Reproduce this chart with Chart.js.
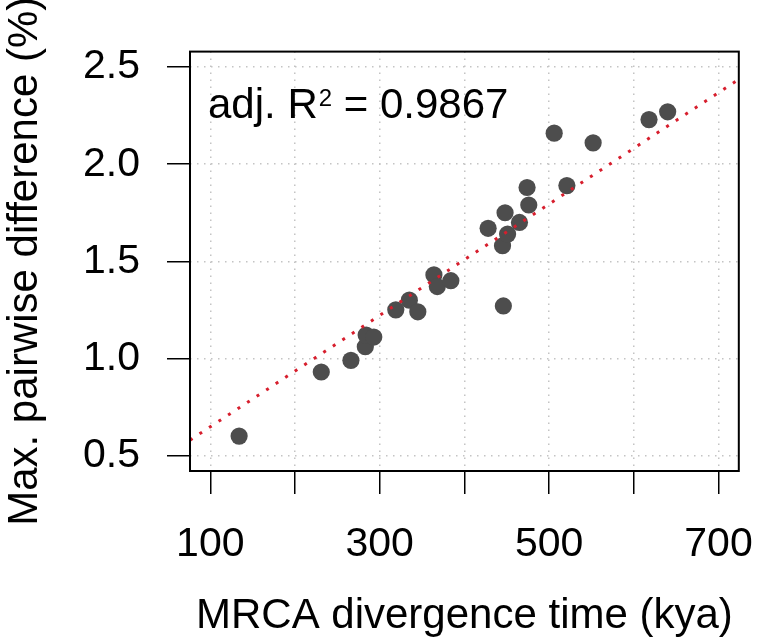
<!DOCTYPE html>
<html>
<head>
<meta charset="utf-8">
<title>MRCA divergence time vs max. pairwise difference</title>
<script src="https://cdn.jsdelivr.net/npm/chart.js@4/dist/chart.umd.min.js"></script>
<style>
  html, body { margin: 0; padding: 0; background: #fff; }
  #wrap { width: 779px; height: 642px; }
</style>
</head>
<body>
<div id="wrap"><canvas id="scatterChart" width="779" height="642"></canvas></div>
<script>
// values
const divergenceKya = [134, 231, 266, 283, 284, 293, 319, 335, 345, 364, 368, 384,
    428, 445, 446, 448, 451, 465, 474, 476, 506, 521, 552, 618, 640];
const pairwiseDiff = [0.60, 0.93, 0.99, 1.06, 1.12, 1.11, 1.25, 1.30, 1.24, 1.43, 1.37, 1.40,
    1.67, 1.58, 1.27, 1.75, 1.64, 1.70, 1.88, 1.79, 2.16, 1.89, 2.11, 2.23, 2.27];

// linear fit shown as the dotted red line
const fitIntercept = 0.361;
const fitSlope = 0.002868;
const adjR2 = '0.9867';

const xTicks = [100, 200, 300, 400, 500, 600, 700];
const xTickLabels = ['100', '', '300', '', '500', '', '700'];
const yTicks = [0.5, 1.0, 1.5, 2.0, 2.5];
const yTickLabels = ['0.5', '1.0', '1.5', '2.0', '2.5'];

const xMin = 76, xMax = 724;
const yMin = 0.42, yMax = 2.58;

const FONT = "'Liberation Sans', Arial, Helvetica, sans-serif";

const points = divergenceKya.map((x, i) => ({ x: x, y: pairwiseDiff[i] }));
const fitLine = [xMin, xMax].map(x => ({ x: x, y: fitIntercept + fitSlope * x }));

// box round the plot + the R^2 note
const boxAndNote = {
    id: 'boxAndNote',
    afterDraw(chart) {
        const { ctx, chartArea: a } = chart;
        ctx.save();
        ctx.strokeStyle = '#000';
        ctx.lineWidth = 2;
        ctx.strokeRect(a.left, a.top, a.right - a.left, a.bottom - a.top);

        ctx.fillStyle = '#000';
        ctx.textBaseline = 'alphabetic';
        ctx.textAlign = 'left';
        let x = a.left + 18;
        const y = a.top + 66;
        ctx.font = '42px ' + FONT;
        ctx.fillText('adj. R', x, y);
        x += ctx.measureText('adj. R').width + 1;
        ctx.font = '24px ' + FONT;
        ctx.fillText('2', x, y - 12);
        x += ctx.measureText('2').width;
        ctx.font = '42px ' + FONT;
        ctx.fillText(' = ' + adjR2, x, y);
        ctx.restore();
    }
};

const ctx = document.getElementById('scatterChart').getContext('2d');
const scatterChart = new Chart(ctx, {
    type: 'scatter',
    data: {
        datasets: [{
            type: 'line',
            label: 'fit',
            data: fitLine,
            borderColor: 'rgb(215,30,45)',
            borderWidth: 3,
            borderDash: [3, 8.4],
            pointRadius: 0,
            fill: false
        }, {
            label: 'samples',
            data: points,
            backgroundColor: '#4d4d4d',
            borderWidth: 0,
            pointRadius: 8.6,
            pointHoverRadius: 8.6
        }]
    },
    options: {
        responsive: false,
        animation: false,
        events: [],
        layout: { padding: { top: 29, right: 8, left: 0, bottom: 0 } },
        plugins: {
            legend: { display: false },
            tooltip: { enabled: false }
        },
        scales: {
            x: {
                type: 'linear',
                min: xMin,
                max: xMax,
                afterBuildTicks: scale => { scale.ticks = xTicks.map(v => ({ value: v })); },
                afterFit: scale => { scale.height = 171; },
                grid: {
                    color: '#c4c4c4',
                    lineWidth: 1.5,
                    tickColor: '#000',
                    tickWidth: 1.5,
                    tickLength: 23,
                    tickBorderDash: []
                },
                border: { display: false, dash: [1.5, 5.5] },
                ticks: {
                    autoSkip: false,
                    maxRotation: 0,
                    padding: 26,
                    color: '#000',
                    font: { family: FONT, size: 41 },
                    callback: (v, i) => xTickLabels[i]
                },
                title: {
                    display: true,
                    text: 'MRCA divergence time (kya)',
                    color: '#000',
                    padding: 0,
                    font: { family: FONT, size: 42 }
                }
            },
            y: {
                type: 'linear',
                min: yMin,
                max: yMax,
                afterBuildTicks: scale => { scale.ticks = yTicks.map(v => ({ value: v })); },
                afterFit: scale => { scale.width = 190; },
                grid: {
                    color: '#c4c4c4',
                    lineWidth: 1.5,
                    tickColor: '#000',
                    tickWidth: 1.5,
                    tickLength: 23,
                    tickBorderDash: []
                },
                border: { display: false, dash: [1.5, 5.5] },
                ticks: {
                    autoSkip: false,
                    padding: 27,
                    color: '#000',
                    font: { family: FONT, size: 41 },
                    callback: (v, i) => yTickLabels[i]
                },
                title: {
                    display: true,
                    text: 'Max. pairwise difference (%)',
                    color: '#000',
                    padding: 0,
                    font: { family: FONT, size: 42 }
                }
            }
        }
    },
    plugins: [boxAndNote]
});
</script>
</body>
</html>
